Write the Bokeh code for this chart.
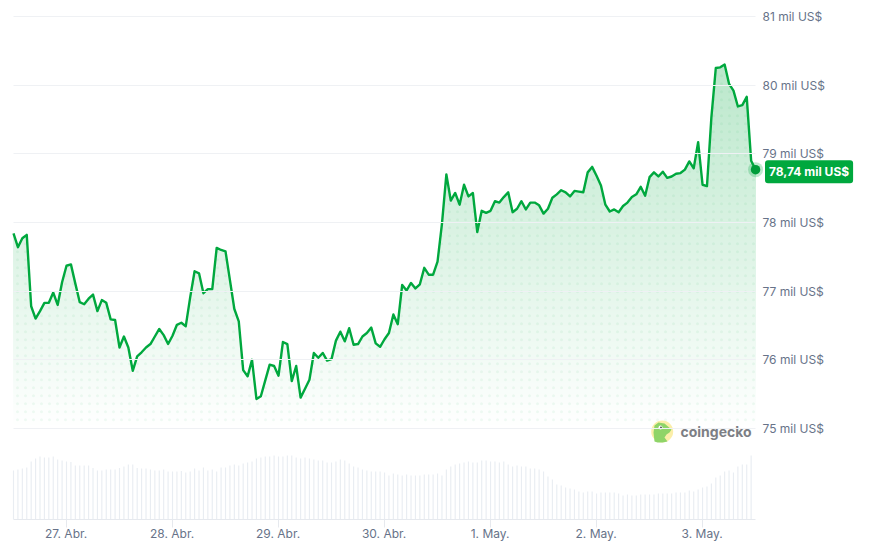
from bokeh.plotting import figure
from bokeh.embed import file_html
from bokeh.resources import INLINE
from bokeh.models import Range1d, LinearAxis, FixedTicker, Label
from bokeh.core.properties import value
import numpy as np

# Hourly BTC price in thousands of US$
prices = [77.84,77.64,77.77,77.82,76.78,76.60,76.71,76.83,76.83,76.98,76.80,77.13,77.37,77.39,77.11,76.84,76.81,76.89,76.95,76.71,
          76.87,76.83,76.59,76.58,76.18,76.34,76.18,75.84,76.05,76.11,76.18,76.23,76.34,76.45,76.36,76.23,76.35,76.51,76.54,76.49,
          76.91,77.29,77.26,76.97,77.03,77.03,77.63,77.60,77.58,77.16,76.74,76.56,75.85,75.76,76.00,75.43,75.47,75.70,75.93,75.91,
          75.77,76.26,76.23,75.69,75.91,75.45,75.58,75.71,76.10,76.03,76.10,75.99,76.01,76.28,76.41,76.27,76.46,76.22,76.23,76.34,
          76.39,76.47,76.24,76.19,76.30,76.39,76.66,76.52,77.09,77.01,77.12,77.04,77.10,77.34,77.24,77.24,77.43,77.98,78.70,78.32,
          78.43,78.26,78.55,78.38,78.43,77.86,78.17,78.14,78.17,78.31,78.29,78.37,78.44,78.15,78.20,78.31,78.19,78.29,78.29,78.25,
          78.13,78.20,78.36,78.41,78.47,78.44,78.38,78.46,78.45,78.44,78.73,78.81,78.68,78.54,78.26,78.16,78.19,78.15,78.24,78.29,
          78.37,78.41,78.52,78.39,78.66,78.73,78.67,78.74,78.65,78.67,78.71,78.72,78.77,78.89,78.79,79.17,78.55,78.53,79.53,80.25,
          80.26,80.30,80.02,79.92,79.69,79.71,79.83,78.90,78.77]

# Relative traded volume per hour (arbitrary units)
volumes = [49,50,51,52,58,61,63,62,62,63,60,59,58,57.5,54,54,54,54,51.5,49,
           49,50,50,50,51.5,53,55,55,51.5,51,51,50,49,49,50,48,48,48,48.5,47,
           48,51,49,52,49,50,48,52,52,54,55,54,56,57,58,61,62,63,63,64,
           63,63,64,64,62,61,62,61,60,59,59,57,57,58,60,59,56,53,52,50,
           49,48,48,48,47,44,46,45,44,45,44,44,44,45,45,45,46,44,50,53,
           55,56,57,58,57,57,59,59,58,58,57,58,55,53,54,53,53,51,51,50,
           48,43,40,35,34,32,31,30,28,27,28,28,26,27,27,27,27,26,24,25,
           24,24,25,25,25,25,26,26,26,26,27,27,27,29,28,30,32,33,36,42,
           44,48,49,47,53,55,55,64]

y_ticks = [75, 76, 77, 78, 79, 80, 81]
day_labels = ["27. Abr.", "28. Abr.", "29. Abr.", "30. Abr.", "1. May.", "2. May.", "3. May."]
last_label = "78,74 mil US$"
last_value = 78.74

GREEN = "#00a83e"
TXT = "#677389"
GRID = "#eff1f4"
FONT = "Inter"

hours = np.arange(len(prices)) - 11.9
bar_hours = hours[:len(volumes)]
day_ticks = [24 * k for k in range(len(day_labels))]

PX_H = 4.417
PX_K = 68.67
FRAME_L = 10
FRAME_W = 845
x0, x1 = -11.9 - 3 / PX_H, -11.9 + (FRAME_W - 3) / PX_H
y0, y1 = 75 - 91 / PX_K, 81 + 8 / PX_K

def X(px):
    return -11.9 + (px - 13) / PX_H

def Y(py):
    return 75 + (428 - py) / PX_K

p = figure(width=860, height=540, frame_width=FRAME_W, frame_height=511,
           x_range=Range1d(x0, x1), y_range=Range1d(y0, y1),
           output_backend="svg", toolbar_location=None,
           min_border_left=FRAME_L, min_border_top=8, min_border_right=0, min_border_bottom=0,
           y_axis_location=None, outline_line_color=None, background_fill_color="white",
           border_fill_color="white")
p.extra_y_ranges = {"vol": Range1d(0, 511)}

# x axis
xa = p.xaxis[0]
xa.ticker = FixedTicker(ticks=day_ticks)
xa.major_label_overrides = {t: l for t, l in zip(day_ticks, day_labels)}
xa.bounds = (hours[0], hours[-1])
xa.axis_line_color = "#e6e9ee"
xa.axis_line_width = 1
xa.major_tick_line_color = "#e6e9ee"
xa.major_tick_out = 8
xa.major_tick_in = 0
xa.minor_tick_line_color = None
xa.major_label_text_font = FONT
xa.major_label_text_font_size = "12px"
xa.major_label_text_color = TXT
xa.major_label_standoff = -2

# y axis on the right; its labels sit back inside the wide frame so the end pill fits
ya = LinearAxis(ticker=FixedTicker(ticks=y_ticks),
                major_label_overrides={t: f"{t} mil US$" for t in y_ticks})
ya.axis_line_color = None
ya.major_tick_line_color = None
ya.minor_tick_line_color = None
ya.major_label_text_font = FONT
ya.major_label_text_font_size = "12px"
ya.major_label_text_color = TXT
ya.major_label_standoff = -99
p.add_layout(ya, "right")

p.xgrid.visible = False
p.ygrid.ticker = FixedTicker(ticks=y_ticks)
p.ygrid.grid_line_color = GRID
p.ygrid.grid_line_width = 1
p.ygrid.cross_bounds = (float(hours[0]), float(hours[-1]))
p.ygrid.level = "glyph"

# gradient under the line: nested opaque bands, then a white mask above the line
levels = np.linspace(75, max(prices) + 0.05, 180)
def shade(v):
    a = 0.27 * (v - 75) / (80.3 - 75)
    r, g, b = 0, 168, 62
    return "#%02x%02x%02x" % (round(255 + (r - 255) * a), round(255 + (g - 255) * a), round(255 + (b - 255) * a))
p.quad(left=hours[0], right=hours[-1], bottom=levels, top=max(prices) + 0.1,
       fill_color=[shade(v) for v in levels], line_color=None, level="underlay")

# dotted texture inside the area
gx = np.arange(17, 755, 8.0)
gy = np.arange(419.3, 60, -8.0)
mx, my = np.meshgrid(gx, gy)
dx, dy = X(mx.ravel()), Y(my.ravel())
keep = dy < np.interp(dx, hours, prices)
p.scatter(dx[keep], dy[keep], size=3, marker="circle", fill_color=GREEN, fill_alpha=0.06,
          line_color=None, level="underlay")

mask_x = np.concatenate([[hours[0] - 2], hours, [hours[-1] + 2]])
mask_y = np.concatenate([[prices[0]], prices, [prices[-1]]])
p.varea(x=mask_x, y1=mask_y, y2=y1, fill_color="white", level="underlay")

# volume bars
p.vbar(x=bar_hours, top=volumes, bottom=0, width=1.15 / PX_H, y_range_name="vol",
       fill_color="#e9edf2", line_color=None)

# price line
p.line(hours, prices, line_color=GREEN, line_width=2.4, line_join="round")

# end marker
p.scatter([hours[-1]], [prices[-1]], size=15, marker="circle", fill_color=GREEN, fill_alpha=0.25, line_color=None)
p.scatter([hours[-1]], [prices[-1]], size=9.5, marker="circle", fill_color="#009c3a", line_color=None)

lab = Label(x=X(764.5), y=last_value, text=last_label, text_color="white", text_font=FONT,
            text_font_size="12px", text_font_style="bold", text_baseline="middle", text_align="left",
            background_fill_color=GREEN, border_radius=3, padding=(4, 4))
p.add_layout(lab)

# logo
lx, ly = 661.7, 431
p.scatter([X(lx)], [Y(ly)], size=22, marker="circle", fill_color="#fbeea9", line_color=None)
gecko_x = [654, 653, 654, 658, 664, 671, 669, 666, 664, 667, 662, 657]
gecko_y = [441, 432, 425, 422, 423, 429, 432, 434, 437, 441, 442, 442]
p.patch(X(np.array(gecko_x, float)), Y(np.array(gecko_y, float)), fill_color="#8fd468", line_color=None)
p.scatter([X(660)], [Y(427)], size=4, marker="circle", fill_color="white", line_color=None)
p.scatter([X(660.5)], [Y(427)], size=2, marker="circle", fill_color="#555555", line_color=None)
p.text([X(680)], [Y(431)], text=["coingecko"], text_font=value("Inter"), text_font_size="14px",
       text_font_style="bold", text_color="#7d7f85", text_baseline="middle", text_align="left")

open("out.html", "w").write(file_html(p, INLINE))
